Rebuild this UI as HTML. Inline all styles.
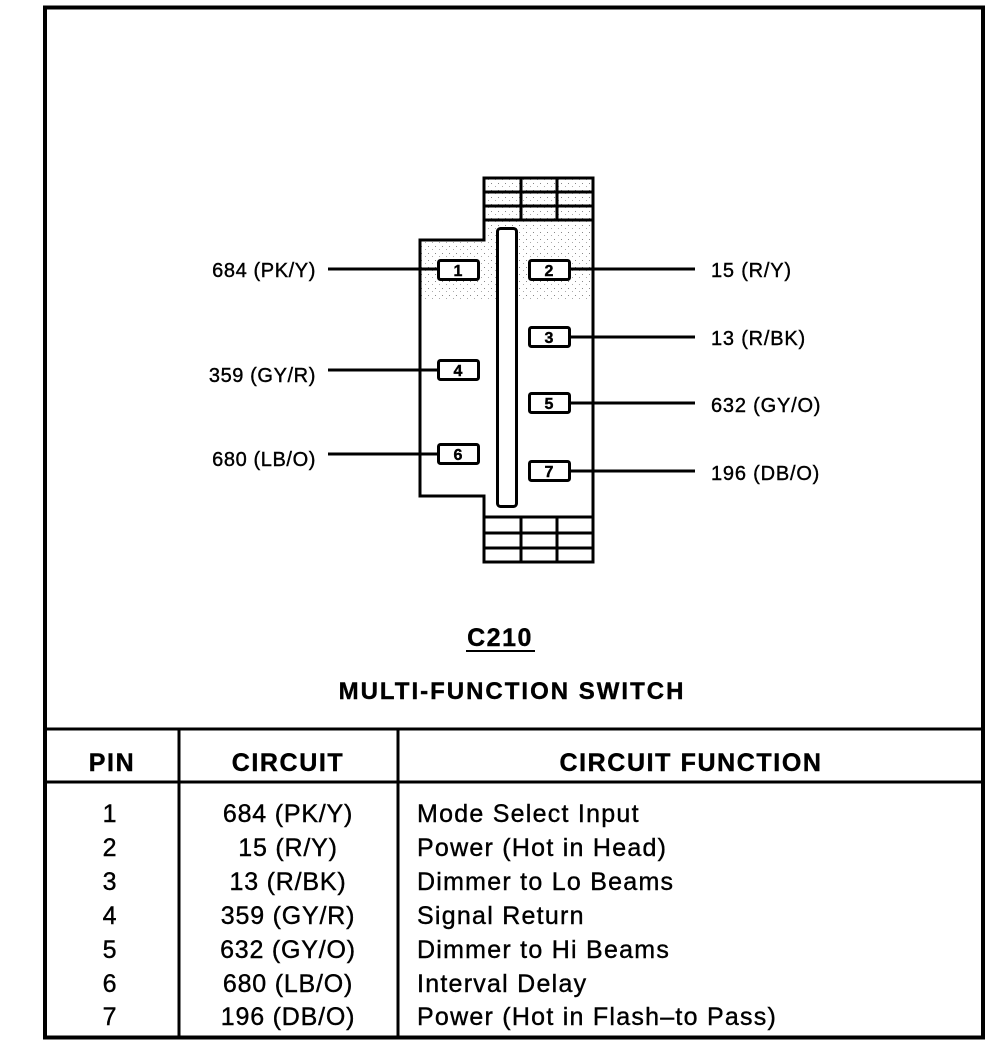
<!DOCTYPE html>
<html><head><meta charset="utf-8"><style>
html,body{margin:0;padding:0;background:#fff;}
svg{display:block;}
text{font-family:"Liberation Sans",Arial,sans-serif;fill:#000;stroke:#000;stroke-width:0.4;}
</style></head><body>
<svg width="992" height="1048" viewBox="0 0 992 1048" xmlns="http://www.w3.org/2000/svg">
<defs>
<pattern id="dots" width="7" height="7" patternUnits="userSpaceOnUse">
<rect width="7" height="7" fill="#fff"/>
<rect x="1" y="1" width="1" height="1" fill="#888"/>
<rect x="5" y="4" width="1" height="1" fill="#aaa"/>
</pattern>
</defs>
<rect x="45" y="7.5" width="938" height="1030" fill="none" stroke="#000" stroke-width="4"/>
<path d="M420 240 H484 V220 H593 V300 H420 Z" fill="url(#dots)"/>
<path d="M484 178 H593 V220 H484 Z" fill="url(#dots)"/>
<path d="M420 240 H484 V178 H593 V562 H484 V496 H420 Z" fill="none" stroke="#000" stroke-width="3"/>
<g stroke="#000" stroke-width="3">
<line x1="484" y1="192" x2="593" y2="192"/>
<line x1="484" y1="206" x2="593" y2="206"/>
<line x1="484" y1="220" x2="593" y2="220"/>
<line x1="521" y1="178" x2="521" y2="220"/>
<line x1="557" y1="178" x2="557" y2="220"/>
<line x1="484" y1="517" x2="593" y2="517"/>
<line x1="484" y1="533" x2="593" y2="533"/>
<line x1="484" y1="548" x2="593" y2="548"/>
<line x1="521" y1="517" x2="521" y2="562"/>
<line x1="557" y1="517" x2="557" y2="562"/>
</g>
<rect x="497.5" y="228.5" width="19" height="278" rx="3" fill="#fff" stroke="#000" stroke-width="3"/>
<g stroke="#000" stroke-width="3">
<line x1="328" y1="269" x2="438" y2="269"/>
<line x1="328" y1="370" x2="438" y2="370"/>
<line x1="328" y1="454" x2="438" y2="454"/>
<line x1="570" y1="269" x2="695" y2="269"/>
<line x1="570" y1="337" x2="695" y2="337"/>
<line x1="570" y1="403" x2="695" y2="403"/>
<line x1="570" y1="471" x2="695" y2="471"/>
</g>
<g stroke="#000" stroke-width="3" fill="#fff">
<rect x="438.5" y="260.5" width="40" height="19" rx="2"/>
<rect x="438.5" y="360.5" width="40" height="19" rx="2"/>
<rect x="438.5" y="444.5" width="40" height="19" rx="2"/>
<rect x="529.5" y="260.5" width="40" height="19" rx="2"/>
<rect x="529.5" y="327.5" width="40" height="19" rx="2"/>
<rect x="529.5" y="393.5" width="40" height="19" rx="2"/>
<rect x="529.5" y="461.5" width="40" height="19" rx="2"/>
</g>
<g font-size="16" font-weight="bold" text-anchor="middle">
<text x="458" y="276">1</text>
<text x="458" y="376">4</text>
<text x="458" y="460">6</text>
<text x="549" y="276">2</text>
<text x="549" y="343">3</text>
<text x="549" y="409">5</text>
<text x="549" y="477">7</text>
</g>
<g font-size="20" letter-spacing="0.6" text-anchor="end">
<text x="316" y="277">684 (PK/Y)</text>
<text x="316" y="382">359 (GY/R)</text>
<text x="316" y="466">680 (LB/O)</text>
</g>
<g font-size="20" letter-spacing="0.8">
<text x="711" y="277">15 (R/Y)</text>
<text x="711" y="345">13 (R/BK)</text>
<text x="711" y="412">632 (GY/O)</text>
<text x="711" y="480">196 (DB/O)</text>
</g>
<text x="500" y="646" font-size="25" font-weight="bold" letter-spacing="1.5" text-anchor="middle">C210</text>
<line x1="466" y1="651" x2="535" y2="651" stroke="#000" stroke-width="2"/>
<text x="512" y="699" font-size="24" font-weight="bold" letter-spacing="2" text-anchor="middle">MULTI-FUNCTION SWITCH</text>
<g stroke="#000" stroke-width="3">
<line x1="45" y1="729" x2="983" y2="729"/>
<line x1="45" y1="782" x2="983" y2="782"/>
<line x1="179" y1="729" x2="179" y2="1037"/>
<line x1="398" y1="729" x2="398" y2="1037"/>
</g>
<g font-size="25" font-weight="bold" letter-spacing="1.6" text-anchor="middle">
<text x="112" y="771">PIN</text>
<text x="288" y="771">CIRCUIT</text>
<text x="691" y="771">CIRCUIT FUNCTION</text>
</g>
<g font-size="25" letter-spacing="0.8" text-anchor="middle">
<text x="110" y="822">1</text><text x="110" y="856">2</text><text x="110" y="890">3</text><text x="110" y="924">4</text><text x="110" y="958">5</text><text x="110" y="992">6</text><text x="110" y="1025">7</text>
<text x="288" y="822">684 (PK/Y)</text><text x="288" y="856">15 (R/Y)</text><text x="288" y="890">13 (R/BK)</text><text x="288" y="924">359 (GY/R)</text><text x="288" y="958">632 (GY/O)</text><text x="288" y="992">680 (LB/O)</text><text x="288" y="1025">196 (DB/O)</text>
</g>
<g font-size="25" letter-spacing="1.25">
<text x="417" y="822">Mode Select Input</text>
<text x="417" y="856">Power (Hot in Head)</text>
<text x="417" y="890">Dimmer to Lo Beams</text>
<text x="417" y="924">Signal Return</text>
<text x="417" y="958">Dimmer to Hi Beams</text>
<text x="417" y="992">Interval Delay</text>
<text x="417" y="1025">Power (Hot in Flash–to Pass)</text>
</g>
</svg>
</body></html>
